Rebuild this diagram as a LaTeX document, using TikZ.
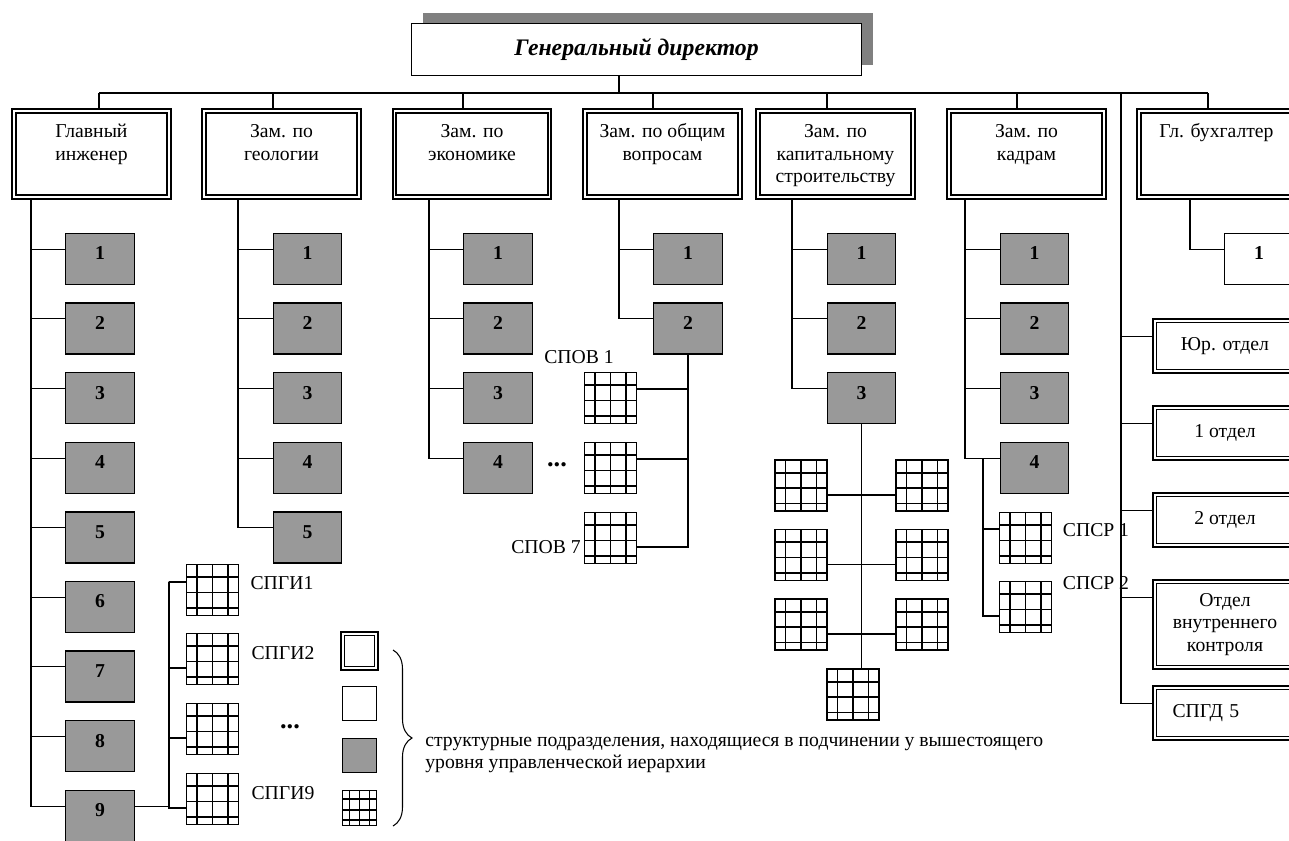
\documentclass[tikz,border=0pt]{standalone}
\usepackage{fontspec}
\setmainfont{Liberation Serif}
\usetikzlibrary{calc,shadows,decorations.pathreplacing}
\definecolor{boxgray}{RGB}{153,153,153}
\definecolor{shadowgray}{RGB}{128,128,128}
\newcommand{\orgfont}{\fontsize{11.2}{13}\selectfont}

\begin{document}
\begin{tikzpicture}[x=0.02cm, y=-0.02cm, font=\orgfont, line width=0.6pt,
    dbl/.style={draw, double, double distance=0.9pt, line width=1.1pt, fill=white},
    deputy/.style={dbl, minimum width=3.1cm, inner ysep=0pt,
      execute at begin node={\begin{minipage}[t][49pt][t]{2.8cm}\centering\rule{0pt}{15pt}},
      execute at end node={\end{minipage}}},
    dept/.style={dbl, minimum width=2.81cm, minimum height=1.01cm, align=center},
    unit/.style={draw, line width=0.8pt, fill=boxgray, minimum width=1.37cm, minimum height=1.02cm,
      font=\orgfont\bfseries, text height=8pt, text depth=7pt},
    dots/.style={font=\fontsize{15}{16}\selectfont\bfseries},
    gridbox/.style={draw, line width=0.9pt, fill=white, minimum width=1.04cm, minimum height=1.02cm, inner sep=0pt,
      path picture={
        \foreach \f in {0.2,0.5,0.8}
          \draw[line width=0.9pt] ($(path picture bounding box.south west)!\f!(path picture bounding box.south east)$)
            -- ($(path picture bounding box.north west)!\f!(path picture bounding box.north east)$);
        \foreach \f in {0.15,0.45,0.75}
          \draw[line width=0.9pt] ($(path picture bounding box.south west)!\f!(path picture bounding box.north west)$)
            -- ($(path picture bounding box.south east)!\f!(path picture bounding box.north east)$);
      }}]
  \useasboundingbox (0,0) rectangle (1289,840);
  \clip (0,0) rectangle (1289,840);

  \node[draw, line width=0.75pt, fill=white, minimum width=9cm, minimum height=1.04cm,
    general shadow={fill=shadowgray, shadow xshift=0.23cm, shadow yshift=0.22cm},
    font=\fontsize{13.5}{15}\selectfont\bfseries\itshape] (gd) at (636.5,49.5) {Генеральный директор};

  \node[deputy] (gi) at (91.5,154) {Главный\\инженер};
  \node[deputy] (geo) at (281.5,154) {Зам. по\\геологии};
  \node[deputy] (eco) at (472,154) {Зам. по\\экономике};
  \node[deputy] (gen) at (662.5,154) {Зам. по общим\\вопросам};
  \node[deputy] (cap) at (835.5,154) {Зам. по\\капитальному\\строительству};
  \node[deputy] (hr) at (1026.5,154) {Зам. по\\кадрам};
  \node[deputy] (acc) at (1216.5,154) {Гл. бухгалтер};

  \coordinate (d-t) at (619,93);
  \coordinate (gi-t) at (99,93);
  \coordinate (geo-t) at (273,93);
  \coordinate (eco-t) at (463,93);
  \coordinate (gen-t) at (653,93);
  \coordinate (cap-t) at (827,93);
  \coordinate (hr-t) at (1017,93);
  \coordinate (acc-t) at (1208,93);
  \coordinate (rt) at (1121,93);
  \draw (gd.south -| d-t) -- (d-t);
  \draw (gi-t) -- (acc-t);
  \foreach \d in {gi,geo,eco,gen,cap,hr,acc}
    \draw (\d-t) -- (\d-t |- \d.north);

  \coordinate (gi-s) at (31,200);
  \coordinate (geo-s) at (238,200);
  \coordinate (eco-s) at (429,200);
  \coordinate (gen-s) at (619,200);
  \coordinate (cap-s) at (792,200);
  \coordinate (hr-s) at (965,200);
  \coordinate (acc-s) at (1190,200);

  \foreach \n in {1,...,9} {
    \node[unit] (gi\n) at (100,{259+69.6*(\n-1)}) {\n};
    \draw ([yshift=-0.33cm]gi\n.north west) -| (gi-s);
  }
  \foreach \n in {1,...,5} {
    \node[unit] (geo\n) at (307.5,{259+69.6*(\n-1)}) {\n};
    \draw ([yshift=-0.33cm]geo\n.north west) -| (geo-s);
  }
  \foreach \n in {1,...,4} {
    \node[unit] (eco\n) at (498,{259+69.6*(\n-1)}) {\n};
    \draw ([yshift=-0.33cm]eco\n.north west) -| (eco-s);
  }
  \foreach \n in {1,2} {
    \node[unit] (gen\n) at (688,{259+69.6*(\n-1)}) {\n};
    \draw ([yshift=-0.33cm]gen\n.north west) -| (gen-s);
  }
  \foreach \n in {1,...,3} {
    \node[unit] (cap\n) at (861.5,{259+69.6*(\n-1)}) {\n};
    \draw ([yshift=-0.33cm]cap\n.north west) -| (cap-s);
  }
  \foreach \n in {1,...,4} {
    \node[unit] (hr\n) at (1034.5,{259+69.6*(\n-1)}) {\n};
    \draw ([yshift=-0.33cm]hr\n.north west) -| (hr-s);
  }
  \node[unit, fill=white] (acc1) at (1259,259) {1};
  \draw ([yshift=-0.33cm]acc1.north west) -| (acc-s);

  \coordinate (spgi-s) at (169,582);
  \foreach \n/\y/\s in {1/590/0.16cm, 2/659/-0.18cm, 3/729/-0.18cm, 4/799/-0.18cm} {
    \node[gridbox] (spgi\n) at (212.5,\y) {};
    \draw ([yshift=\s]spgi\n.west) -| (spgi-s);
  }
  \draw ([yshift=-0.33cm]gi9.north east) -| (spgi-s);
  \node (l-spgi1) at (282,583) {СПГИ1};
  \node (l-spgi2) at (283,653) {СПГИ2};
  \node[dots] (l-spgid) at (290,727) {...};
  \node (l-spgi9) at (283,793) {СПГИ9};

  \foreach \n/\y/\s in {1/398/0.18cm, 2/468/0.18cm, 3/538/-0.18cm} {
    \node[gridbox] (spov\n) at (610.5,\y) {};
    \draw ([yshift=\s]spov\n.east) -| (gen2.south);
  }
  \node (l-spov1) at (579,357) {СПОВ 1};
  \node[dots] (l-spovd) at (557,465) {...};
  \node (l-spov7) at (546,547) {СПОВ 7};

  \foreach \n/\y in {1/485.5, 2/555, 3/624.5} {
    \node[gridbox] (capl\n) at (801,\y) {};
    \node[gridbox] (capr\n) at (922,\y) {};
    \draw ([yshift=-0.19cm]capl\n.east) -- ([yshift=-0.19cm]capr\n.west);
  }
  \node[gridbox] (capb) at (853,694.5) {};
  \draw (cap3.south) -- (cap3.south |- capb.north);

  \coordinate (hr-k) at (983,459);
  \node[gridbox] (spsr1) at (1025.5,538) {};
  \node[gridbox] (spsr2) at (1025.5,607) {};
  \draw ([yshift=0.18cm]spsr1.west) -| (hr-k);
  \draw ([yshift=-0.18cm]spsr2.west) -| (hr-k);
  \node (l-spsr1) at (1096,530) {СПСР 1};
  \node (l-spsr2) at (1096,583) {СПСР 2};

  \node[dept] (jur) at (1225,346) {Юр. отдел};
  \node[dept] (o1) at (1225,433) {1 отдел};
  \node[dept] (o2) at (1225,520) {2 отдел};
  \node[dept, minimum height=1.71cm] (ovk) at (1225,624.5) {Отдел\\внутреннего\\контроля};
  \node[dept, text width=2.1cm, align=left, inner xsep=0.355cm] (spgd) at (1225,713) {СПГД 5};
  \foreach \b in {jur,o1,o2,ovk,spgd}
    \draw ([yshift=-0.34cm]\b.north west) -| (rt);

  \node[dbl, minimum width=0.67cm, minimum height=0.69cm, inner sep=0pt] (lg1) at (359.5,651) {};
  \node[unit, fill=white, minimum width=0.68cm, minimum height=0.68cm, inner sep=0pt] (lg2) at (359.5,703.5) {};
  \node[unit, minimum width=0.68cm, minimum height=0.68cm, inner sep=0pt] (lg3) at (359.5,755.5) {};
  \node[gridbox, minimum width=0.68cm, minimum height=0.7cm] (lg4) at (359.5,808) {};
  \coordinate (br-a) at (393,650);
  \coordinate (br-b) at (393,826);
  \draw[decorate, decoration={brace, amplitude=0.38cm}] (br-a) -- (br-b);
  \node[anchor=west, align=left] (leg) at (419,755)
    {структурные подразделения, находящиеся в подчинении у вышестоящего\\уровня управленческой иерархии};
\end{tikzpicture}
\end{document}
